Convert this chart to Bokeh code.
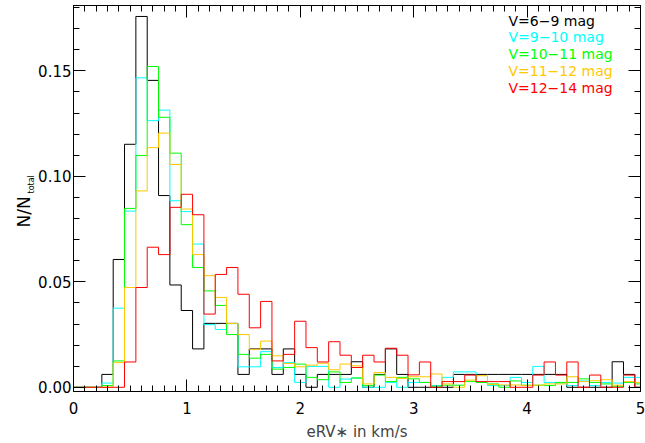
from bokeh.plotting import figure
from bokeh.layouts import row
from bokeh.models import (Range1d, LinearAxis, Label, FixedTicker, NumeralTickFormatter,
                          CustomLabelingPolicy)
from bokeh.embed import file_html
from bokeh.resources import INLINE

# bin centres of eRV* (km/s)
bin_centers = [0.0, 0.1, 0.2, 0.3, 0.4, 0.5, 0.6, 0.7, 0.8, 0.9,
               1.0, 1.1, 1.2, 1.3, 1.4, 1.5, 1.6, 1.7, 1.8, 1.9,
               2.0, 2.1, 2.2, 2.3, 2.4, 2.5, 2.6, 2.7, 2.8, 2.9,
               3.0, 3.1, 3.2, 3.3, 3.4, 3.5, 3.6, 3.7, 3.8, 3.9,
               4.0, 4.1, 4.2, 4.3, 4.4, 4.5, 4.6, 4.7, 4.8, 4.9, 5.0]

series_labels = ["V=6\u22129 mag", "V=9\u221210 mag", "V=10\u221211 mag",
                 "V=11\u221212 mag", "V=12\u221214 mag"]
series_colors = ["#000000", "#00FFFF", "#00FF00", "#FFC800", "#FF0000"]

v6_9 = [0, 0, 0, 0.0061, 0.0606, 0.1152, 0.1758, 0.1455, 0.0909, 0.0485,
        0.0364, 0.0182, 0.0303, 0.0303, 0.0303, 0.0061, 0.0182, 0.0182, 0.0061, 0.0182,
        0.0061, 0, 0.0061, 0.0061, 0.0061, 0.0121, 0, 0.0061, 0.0182, 0.0061,
        0, 0, 0, 0, 0.0061, 0.0061, 0.0061, 0.0061, 0.0061, 0.0061,
        0.0061, 0.0061, 0.0061, 0.0061, 0, 0, 0, 0, 0.0121, 0.0061, 0]

v9_10 = [0, 0, 0, 0.0020, 0.0375, 0.0835, 0.1467, 0.1264, 0.1314, 0.0884,
         0.0833, 0.0679, 0.0297, 0.0274, 0.0302, 0.0097, 0.0097, 0.0169, 0.0094, 0.0117,
         0.0023, 0.0099, 0.0099, 0, 0.0039, 0.0044, 0, 0, 0.0023, 0,
         0.0023, 0.0023, 0.0008, 0.0047, 0.0073, 0.0073, 0.0023, 0.0008, 0.0008, 0.0047,
         0.0023, 0.0099, 0.0023, 0.0020, 0.0008, 0.0030, 0.0008, 0.0023, 0.0020, 0.0047, 0.0047]

v10_11 = [0, 0, 0, 0.0008, 0.0125, 0.0848, 0.1099, 0.1521, 0.1280, 0.1110,
          0.0771, 0.0568, 0.0457, 0.0388, 0.0250, 0.0156, 0.0138, 0.0156, 0.0086, 0.0094,
          0.0110, 0.0047, 0.0036, 0.0073, 0.0023, 0.0044, 0.0008, 0.0058, 0.0027, 0.0047,
          0.0040, 0.0023, 0.0005, 0.0010, 0.0010, 0.0027, 0.0023, 0.0016, 0, 0.0030,
          0.0010, 0.0010, 0.0008, 0.0023, 0.0023, 0.0040, 0.0023, 0.0016, 0.0005, 0.0023, 0.0016]

v11_12 = [0, 0, 0, 0, 0.0117, 0.0473, 0.0931, 0.1136, 0.1205, 0.1056,
          0.0845, 0.0629, 0.0529, 0.0426, 0.0302, 0.0250, 0.0180, 0.0219, 0.0149, 0.0113,
          0.0097, 0.0105, 0.0114, 0.0083, 0.0110, 0.0102, 0.0016, 0.0070, 0.0047, 0.0042,
          0.0050, 0.0050, 0.0063, 0.0016, 0, 0.0034, 0.0055, 0.0013, 0.0011, 0.0011,
          0.0008, 0.0010, 0.0016, 0.0016, 0.0050, 0.0027, 0.0031, 0.0036, 0.0010, 0.0027, 0.0023]

v12_14 = [0, 0, 0, 0, 0, 0.0120, 0.0473, 0.0664, 0.0629, 0.0853,
          0.0915, 0.0818, 0.0347, 0.0535, 0.0568, 0.0441, 0.0282, 0.0407, 0.0125, 0.0156,
          0.0313, 0.0188, 0.0120, 0.0216, 0.0152, 0.0094, 0.0152, 0.0120, 0.0185, 0.0152,
          0.0059, 0.0120, 0, 0.0027, 0.0027, 0.0058, 0.0027, 0.0027, 0.0027, 0,
          0, 0.0058, 0.0120, 0.0058, 0.0120, 0, 0.0058, 0, 0, 0.0058, 0]

all_series = [v6_9, v9_10, v10_11, v11_12, v12_14]

x_major = [0, 1, 2, 3, 4, 5]
x_minor = [round(0.1 * i, 1) for i in range(51)]
y_major = [0.0, 0.05, 0.10, 0.15]
y_minor = [round(0.01 * i, 2) for i in range(19)]

FONT = "DejaVu Sans"
TITLE_W = 35   # strip that carries the vertical y title

# ---- main plot -------------------------------------------------------------
p = figure(width=645 - TITLE_W, height=443, output_backend="svg", toolbar_location=None,
           x_range=Range1d(0, 5), y_range=Range1d(-0.002, 0.181),
           min_border_left=38, min_border_right=1, min_border_top=5,
           min_border_bottom=49)
p.grid.visible = False
p.outline_line_color = "black"
p.outline_line_width = 1
p.background_fill_color = "white"
p.border_fill_color = "white"

for ys, col in zip(all_series, series_colors):
    p.step(bin_centers, ys, mode="center", line_color=col, line_width=1)

no_labels = "for (const i of indices) { indices.unset(i) } return indices"

def style_axis(ax, show_labels):
    ax.axis_line_color = "black"
    ax.major_tick_line_color = "black"
    ax.minor_tick_line_color = "black"
    ax.major_tick_in = 12
    ax.major_tick_out = 0
    ax.minor_tick_in = 6
    ax.minor_tick_out = 0
    ax.major_label_text_font = FONT
    ax.major_label_text_color = "black"
    if show_labels:
        ax.major_label_text_font_size = "15px"
    else:
        ax.major_label_text_font_size = "1px"
        ax.major_label_standoff = 0
        ax.major_label_policy = CustomLabelingPolicy(code=no_labels)

xa = p.xaxis[0]
xa.ticker = FixedTicker(ticks=x_major, minor_ticks=x_minor)
xa.formatter = NumeralTickFormatter(format="0")
style_axis(xa, True)
xa.major_label_standoff = 10
xa.axis_label = "eRV\u2217 in km/s"
xa.axis_label_text_font = FONT
xa.axis_label_text_font_size = "15px"
xa.axis_label_text_font_style = "normal"
xa.axis_label_standoff = 6

ya = p.yaxis[0]
ya.ticker = FixedTicker(ticks=y_major, minor_ticks=y_minor)
ya.formatter = NumeralTickFormatter(format="0.00")
style_axis(ya, True)
ya.major_label_standoff = 2

top = LinearAxis(ticker=FixedTicker(ticks=x_major, minor_ticks=x_minor))
style_axis(top, False)
p.add_layout(top, "above")
right = LinearAxis(ticker=FixedTicker(ticks=y_major, minor_ticks=y_minor))
style_axis(right, False)
p.add_layout(right, "right")

# colour-coded legend text
for i, (lab, col) in enumerate(zip(series_labels, series_colors)):
    p.add_layout(Label(x=435, y=371 - i * 16.8, x_units="screen", y_units="screen",
                       text=lab, text_font=FONT, text_font_size="14px",
                       text_align="left", text_baseline="middle", text_color=col))

# ---- strip with the vertical y title N/N_total ------------------------------
# (its frame is aligned with the main frame: bottom at canvas y=394)
t = figure(width=TITLE_W, height=443, output_backend="svg", toolbar_location=None,
           x_range=Range1d(0, TITLE_W), y_range=Range1d(0, 389),
           x_axis_location=None, y_axis_location=None,
           min_border_left=0, min_border_right=0, min_border_top=5, min_border_bottom=49)
t.grid.visible = False
t.outline_line_color = None
t.background_fill_color = "white"
t.border_fill_color = "white"
t.add_layout(Label(x=23.5, y=164, x_units="screen", y_units="screen", text="N/N",
                   angle=1.5707963, angle_units="rad", text_font=FONT,
                   text_font_size="17px", text_align="left", text_baseline="alphabetic",
                   text_color="black"))
t.add_layout(Label(x=30.5, y=198, x_units="screen", y_units="screen", text="total",
                   angle=1.5707963, angle_units="rad", text_font=FONT,
                   text_font_size="8px", text_align="left", text_baseline="alphabetic",
                   text_color="black"))

layout = row(t, p, spacing=0)
open("out.html", "w").write(file_html(layout, INLINE))
